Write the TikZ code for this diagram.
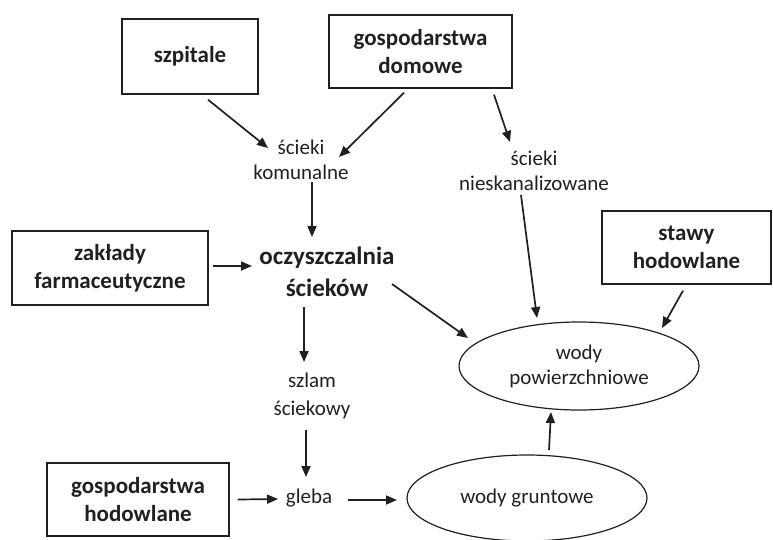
\documentclass[tikz,border=0pt]{standalone}
\usepackage{fontspec}
\setmainfont{Carlito}
\usetikzlibrary{calc,shapes.geometric,arrows.meta}
\definecolor{ink}{RGB}{35,31,32}
\begin{document}
\begin{tikzpicture}[x=1pt,y=-1pt,
  boxnode/.style={draw=ink,line width=1.4pt,rectangle,inner sep=0pt,align=center,
     text=ink,font=\fontsize{23}{28}\selectfont\bfseries},
  plain/.style={inner sep=0pt,align=center,text=ink,font=\fontsize{21}{25}\selectfont},
  oval/.style={draw=ink,line width=1.2pt,ellipse,inner sep=0pt,align=center,
     text=ink,font=\fontsize{21}{25}\selectfont},
  arr/.style={draw=ink,line width=1.7pt,-{Triangle[length=11pt,width=9pt]}}]
\useasboundingbox (0,0) rectangle (773,539);
% boxes
\node[boxnode,minimum width=136pt,minimum height=75pt] (szp) at (190,56.5) {szpitale};
\node[boxnode,minimum width=183pt,minimum height=73pt] (gdom) at (420.5,51.5) {gospodarstwa\\domowe};
\node[boxnode,minimum width=196pt,minimum height=74pt] (zakl) at (110,268) {zakłady\\farmaceutyczne};
\node[boxnode,minimum width=169pt,minimum height=73pt] (staw) at (686.5,247.5) {stawy\\hodowlane};
\node[boxnode,minimum width=182pt,minimum height=73pt] (ghod) at (138,499.5) {gospodarstwa\\hodowlane};
% text nodes
\node[plain] (kom) at (301,160) {ścieki\\komunalne};
\node[plain] (nies) at (534,171) {ścieki\\nieskanalizowane};
\node[plain,font=\fontsize{25}{32}\selectfont\bfseries] (ocz) at (327,272) {oczyszczalnia\\ścieków};
\node[plain,font=\fontsize{21}{28}\selectfont] (szlam) at (312,396) {szlam\\ściekowy};
\node[plain] (gleba) at (309,498) {gleba};
% ellipses
\node[oval,minimum width=240pt,minimum height=88pt] (wpow) at (579,366) {wody\\powierzchniowe};
\node[oval,minimum width=240pt,minimum height=86pt] (wgr) at (527,498) {wody gruntowe};
% connectors
\draw[arr] ($(szp.south)+(18,5)$) -- ($(kom.center)+(-33,-12)$);
\draw[arr] ($(gdom.south)+(-16.5,4)$) -- ($(kom.center)+(38,-3)$);
\draw[arr] ($(gdom.south)+(73.5,6)$) -- ($(nies.center)+(-24,-29)$);
\draw[arr] ($(kom.center)+(11,22)$) -- ($(ocz.center)+(-15,-35)$);
\draw[arr] ($(zakl.east)+(4,-2)$) -- ($(ocz.center)+(-75,-6)$);
\draw[arr] ($(ocz.center)+(65,12)$) -- ($(wpow.center)+(-111,-28)$);
\draw[arr] ($(nies.center)+(-13,24)$) -- ($(wpow.center)+(-42,-48)$);
\draw[arr] ($(staw.south)+(-3.5,6)$) -- ($(wpow.center)+(83,-38)$);
\draw[arr] ($(ocz.center)+(-23,35)$) -- ($(szlam.center)+(-8,-34)$);
\draw[arr] ($(szlam.center)+(-6,34)$) -- ($(gleba.center)+(-3,-21)$);
\draw[arr] ($(ghod.east)+(8,0)$) -- ($(gleba.center)+(-31,1)$);
\draw[arr] ($(gleba.center)+(39,2)$) -- ($(wgr.center)+(-130,2)$);
\draw[arr] ($(wgr.center)+(22,-48)$) -- ($(wpow.center)+(-28,46)$);
\end{tikzpicture}
\end{document}
